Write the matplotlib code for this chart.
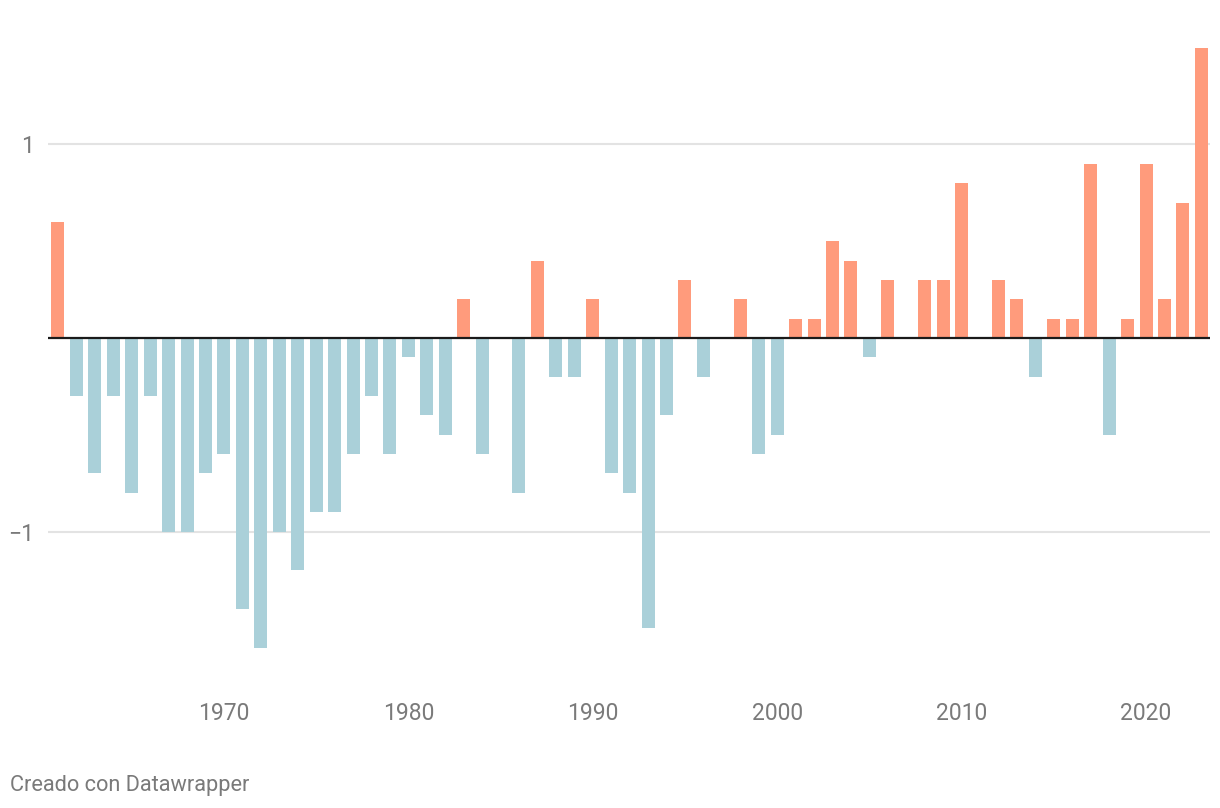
import numpy as np
import matplotlib.pyplot as plt

plt.rcParams['font.family'] = ['Roboto', 'DejaVu Sans']

# Yearly anomaly values
years = np.arange(1961, 2024)
values = [
    0.6, -0.3, -0.7, -0.3, -0.8, -0.3, -1.0, -1.0, -0.7, -0.6,   # 1961-1970
    -1.4, -1.6, -1.0, -1.2, -0.9, -0.9, -0.6, -0.3, -0.6, -0.1,  # 1971-1980
    -0.4, -0.5, 0.2, -0.6, 0.0, -0.8, 0.4, -0.2, -0.2, 0.2,      # 1981-1990
    -0.7, -0.8, -1.5, -0.4, 0.3, -0.2, 0.0, 0.2, -0.6, -0.5,     # 1991-2000
    0.1, 0.1, 0.5, 0.4, -0.1, 0.3, 0.0, 0.3, 0.3, 0.8,           # 2001-2010
    0.0, 0.3, 0.2, -0.2, 0.1, 0.1, 0.9, -0.5, 0.1, 0.9,          # 2011-2020
    0.2, 0.7, 1.5,                                               # 2021-2023
]
xticks = [1970, 1980, 1990, 2000, 2010, 2020]
yticks = [-1, 1]

pos_color = '#ff9b7c'
neg_color = '#aad0d9'
text_color = '#7a7a7a'

values = np.array(values)
colors = [pos_color if v > 0 else neg_color for v in values]

fig = plt.figure(figsize=(12.2, 8.08), dpi=100)
ax = fig.add_axes([48 / 1220, (808 - 680) / 808, (1210 - 48) / 1220, 660 / 808])

ax.bar(years, values, width=0.705, color=colors, zorder=2)
ax.axhline(0, color='#1a1a1a', lw=1.6, zorder=3)

ax.set_xlim(1960.46, 2023.47)
ax.set_ylim(-1.767, 1.643)

ax.set_yticks(yticks)
ax.set_yticklabels(['\u22121', '1'])
ax.set_xticks(xticks)
ax.set_xticklabels([str(x) for x in xticks])
ax.grid(axis='y', color='#e3e3e3', lw=1.5, zorder=0)
ax.tick_params(axis='both', length=0, labelsize=16.5, colors=text_color)
ax.tick_params(axis='x', pad=16)
ax.tick_params(axis='y', pad=10)

for s in ax.spines.values():
    s.set_visible(False)

fig.text(10 / 1220, 1 - 785 / 808, 'Creado con Datawrapper', fontsize=15.7,
         color=text_color, ha='left', va='center')

fig.savefig('out.png', dpi=100)
